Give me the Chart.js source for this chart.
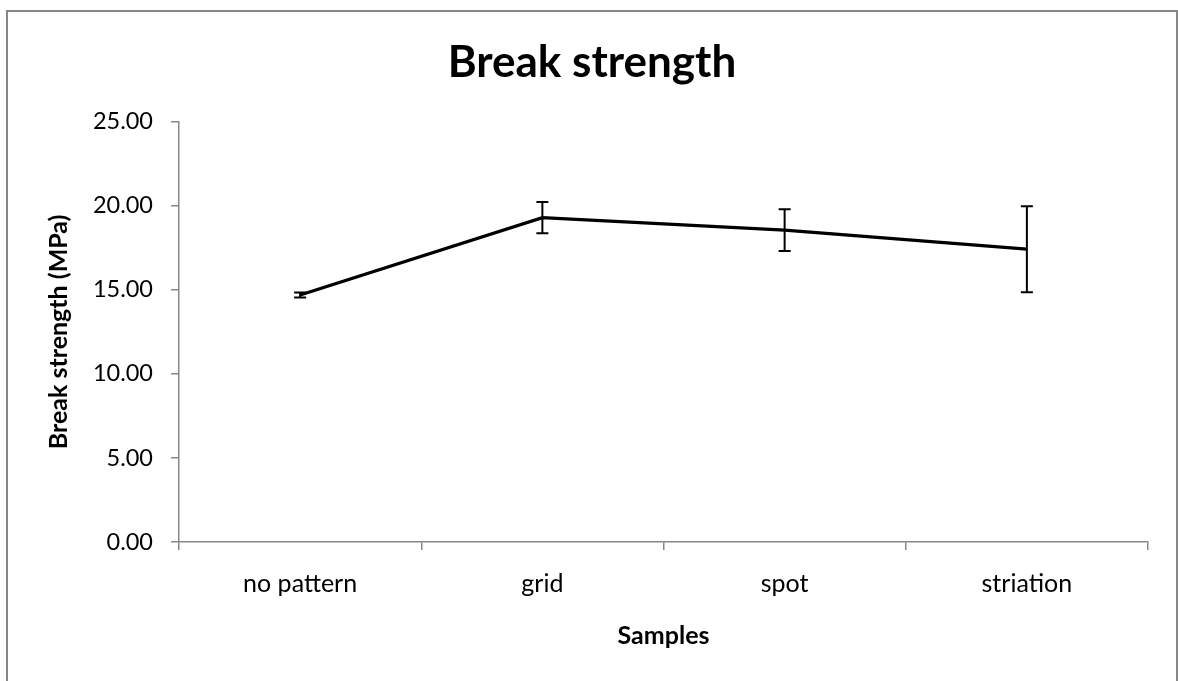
<!DOCTYPE html>
<html>
<head>
<meta charset="utf-8">
<title>Break strength</title>
<script src="https://cdn.jsdelivr.net/npm/chart.js@4/dist/chart.umd.min.js"></script>
<style>
  html, body { margin: 0; padding: 0; background: #ffffff; overflow: hidden; }
  #frame {
    position: absolute; left: 6px; top: 10px;
    width: 1168px; height: 669px;
    border: 2px solid #878787;
    background: #ffffff;
  }
  #chart { display: block; }
</style>
</head>
<body>
<div id="frame"><canvas id="chart" width="1168" height="669"></canvas></div>
<script>
// Sample groups along the x axis
const categories = ['no pattern', 'grid', 'spot', 'striation'];
// Mean break strength (MPa) per sample group
const meanStrength = [14.70, 19.30, 18.55, 17.42];
// Standard deviation shown as error bars (MPa)
const errStrength = [0.15, 0.93, 1.24, 2.56];
// Value axis range and step
const yMin = 0;
const yMax = 25;
const yStep = 5;

const FONT = 'Lato, "Open Sans", "Liberation Sans", sans-serif';
const AXIS_GREY = '#878787';

// Vertical error bars with flat caps, drawn through the chart's scales
const errorBarPlugin = {
  id: 'errorBars',
  afterDatasetsDraw(chart) {
    const { ctx, scales: { x, y } } = chart;
    ctx.save();
    ctx.strokeStyle = '#000000';
    ctx.lineWidth = 2;
    const cap = 6;
    meanStrength.forEach((m, i) => {
      const px = x.getPixelForValue(i);
      const top = y.getPixelForValue(m + errStrength[i]);
      const bot = y.getPixelForValue(m - errStrength[i]);
      ctx.beginPath();
      ctx.moveTo(px, top); ctx.lineTo(px, bot);
      ctx.moveTo(px - cap, top); ctx.lineTo(px + cap, top);
      ctx.moveTo(px - cap, bot); ctx.lineTo(px + cap, bot);
      ctx.stroke();
    });
    ctx.restore();
  }
};

new Chart(document.getElementById('chart'), {
  type: 'line',
  data: {
    labels: categories,
    datasets: [{
      label: 'Break strength (MPa)',
      data: meanStrength,
      borderColor: '#000000',
      borderWidth: 3.2,
      pointRadius: 0,
      tension: 0,
      fill: false
    }]
  },
  options: {
    responsive: false,
    animation: false,
    layout: { padding: { left: 0, right: 0, top: 0, bottom: 19 } },
    plugins: {
      legend: { display: false },
      tooltip: { enabled: false },
      title: {
        display: true,
        text: 'Break strength',
        color: '#000000',
        font: { family: FONT, size: 44, weight: 'bold', lineHeight: 1.2 },
        padding: { top: 24, bottom: 33 }
      }
    },
    scales: {
      x: {
        type: 'category',
        offset: true,
        grid: {
          offset: true,
          drawOnChartArea: false,
          drawTicks: true,
          tickLength: 8,
          color: AXIS_GREY,
          lineWidth: 1.5
        },
        border: { display: true, color: AXIS_GREY, width: 1.5 },
        ticks: {
          color: '#000000',
          padding: 19,
          maxRotation: 0,
          font: { family: FONT, size: 25 }
        },
        title: {
          display: true,
          text: 'Samples',
          color: '#000000',
          font: { family: FONT, size: 25, weight: 'bold', lineHeight: 1.2 },
          padding: { top: 0, bottom: 11 }
        },
        afterFit(s) { s.height = 120; }
      },
      y: {
        type: 'linear',
        position: 'left',
        min: yMin,
        max: yMax,
        grid: {
          drawOnChartArea: false,
          drawTicks: true,
          tickLength: 8,
          color: AXIS_GREY,
          lineWidth: 1.5
        },
        border: { display: true, color: AXIS_GREY, width: 1.5 },
        ticks: {
          stepSize: yStep,
          color: '#000000',
          padding: 18,
          font: { family: FONT, size: 23.5 },
          callback: (v) => Number(v).toFixed(2)
        },
        title: {
          display: true,
          text: 'Break strength (MPa)',
          color: '#000000',
          font: { family: FONT, size: 25, weight: 'bold', lineHeight: 1.2 },
          padding: { top: 36, bottom: 0 }
        },
        afterFit(s) { s.width = 171; }
      },
      spacer: {
        type: 'linear',
        position: 'right',
        display: true,
        grid: { display: false, drawTicks: false },
        border: { display: false },
        ticks: { display: false },
        afterFit(s) { s.width = 28; }
      }
    }
  },
  plugins: [errorBarPlugin]
});
</script>
</body>
</html>
